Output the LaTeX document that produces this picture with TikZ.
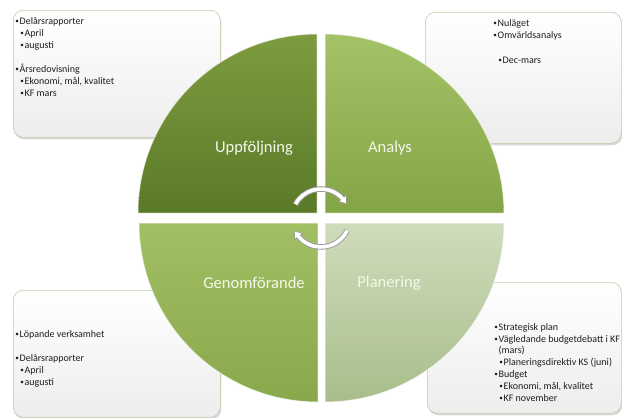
\documentclass[tikz,border=0pt]{standalone}
\usepackage{fontspec}
\setmainfont{Carlito}
\usetikzlibrary{arrows.meta,bending,shadows}
\definecolor{boxline}{HTML}{C2C9AA}
\definecolor{boxfill}{HTML}{EDEDED}
\definecolor{boxtext}{HTML}{1E1E1E}
\definecolor{phasetext}{HTML}{F4F8EC}
\definecolor{arrowrim}{HTML}{9C9C9C}
\definecolor{upptop}{HTML}{7D9C3F}
\definecolor{uppbot}{HTML}{5B7A28}
\definecolor{anatop}{HTML}{A4C266}
\definecolor{anabot}{HTML}{84A546}
\definecolor{gentop}{HTML}{A1C063}
\definecolor{genbot}{HTML}{88A84B}
\definecolor{plantop}{HTML}{CFDCBB}
\definecolor{planbot}{HTML}{A8BD8B}
\newcommand{\bul}{\raisebox{0.1ex}{\scalebox{0.72}{•}}\hspace{0.8pt}}

\begin{document}
\begin{tikzpicture}[x=1pt,y=1pt,>={Triangle[length=8pt,width=11pt,bend]},
                    semithick]
  \tikzstyle{infobox}=[draw=boxline,rounded corners=10pt,top color=white,bottom color=boxfill,
                       drop shadow={opacity=0.3,shadow xshift=1pt,shadow yshift=-2pt},
                       anchor=north west,inner sep=0pt]
  \tikzstyle{infotext}=[anchor=north west,align=left,inner sep=0pt,text=boxtext,
                        font=\fontsize{10}{12}\selectfont]
  \tikzstyle{quarter}=[draw=white,draw opacity=0.55,line width=1pt]
  \tikzstyle{phase}=[text=phasetext,font=\fontsize{16.5}{18}\selectfont]

  \useasboundingbox (0,0) rectangle (622,-418);

  \node[infobox,minimum width=207pt,minimum height=127pt] (b1) at (13,-10)  {};
  \node[infobox,minimum width=196pt,minimum height=131pt] (b2) at (425,-12) {};
  \node[infobox,minimum width=207pt,minimum height=127pt] (b3) at (13,-290) {};
  \node[infobox,minimum width=194pt,minimum height=131pt] (b4) at (427,-282) {};

  \node[infotext] (t1) at (15,-17)
    {\bul Delårsrapporter\\\hspace*{5pt}\bul April\\\hspace*{5pt}\bul augusti\\[12pt]
     \bul Årsredovisning\\\hspace*{5pt}\bul Ekonomi, mål, kvalitet\\\hspace*{5pt}\bul KF mars};
  \node[infotext] (t2) at (493,-19)
    {\bul Nuläget\\\bul Omvärldsanalys\\[13pt]\hspace*{5pt}\bul Dec-mars};
  \node[infotext] (t3) at (15,-330)
    {\bul Löpande verksamhet\\[12pt]\bul Delårsrapporter\\\hspace*{5pt}\bul April\\\hspace*{5pt}\bul augusti};
  \node[infotext] (t4) at (494,-323)
    {\bul Strategisk plan\\\bul Vägledande budgetdebatt i KF\\[-1pt]\phantom{\bul}(mars)\\
     \hspace*{5pt}\bul Planeringsdirektiv KS (juni)\\\bul Budget\\
     \hspace*{5pt}\bul Ekonomi, mål, kvalitet\\\hspace*{5pt}\bul KF november};

  \path[quarter,top color=upptop,bottom color=uppbot]
    (317,-213) -- (138,-213) arc[start angle=180,end angle=90,radius=179] -- cycle;
  \path[quarter,top color=anatop,bottom color=anabot]
    (325,-213) -- (325,-34) arc[start angle=90,end angle=0,radius=179] -- cycle;
  \path[quarter,top color=gentop,bottom color=genbot]
    (318,-223) -- (139,-223) arc[start angle=180,end angle=270,radius=179] -- cycle;
  \path[quarter,top color=plantop,bottom color=planbot]
    (325,-223) -- (504,-223) arc[start angle=0,end angle=-90,radius=179] -- cycle;

  \node[phase] (p1) at (254,-148) {Uppföljning};
  \node[phase] (p2) at (390,-148) {Analys};
  \node[phase] (p3) at (254,-283) {Genomförande};
  \node[phase] (p4) at (389,-283) {Planering};

  \coordinate (m) at (321,-218);
  \draw[line width=5.5pt,arrowrim,->] (m) ++(152:29) arc[start angle=152,end angle=28,radius=29];
  \draw[line width=5.5pt,arrowrim,->] (m) ++(-25:29) arc[start angle=-25,end angle=-155,radius=29];
  \draw[line width=3.6pt,white,-{Triangle[length=5.5pt,width=7.5pt,bend]},shorten >=1.3pt]
    (m) ++(151.5:29) arc[start angle=151.5,end angle=28,radius=29];
  \draw[line width=3.6pt,white,-{Triangle[length=5.5pt,width=7.5pt,bend]},shorten >=1.3pt]
    (m) ++(-25.5:29) arc[start angle=-25.5,end angle=-155,radius=29];
\end{tikzpicture}
\end{document}
